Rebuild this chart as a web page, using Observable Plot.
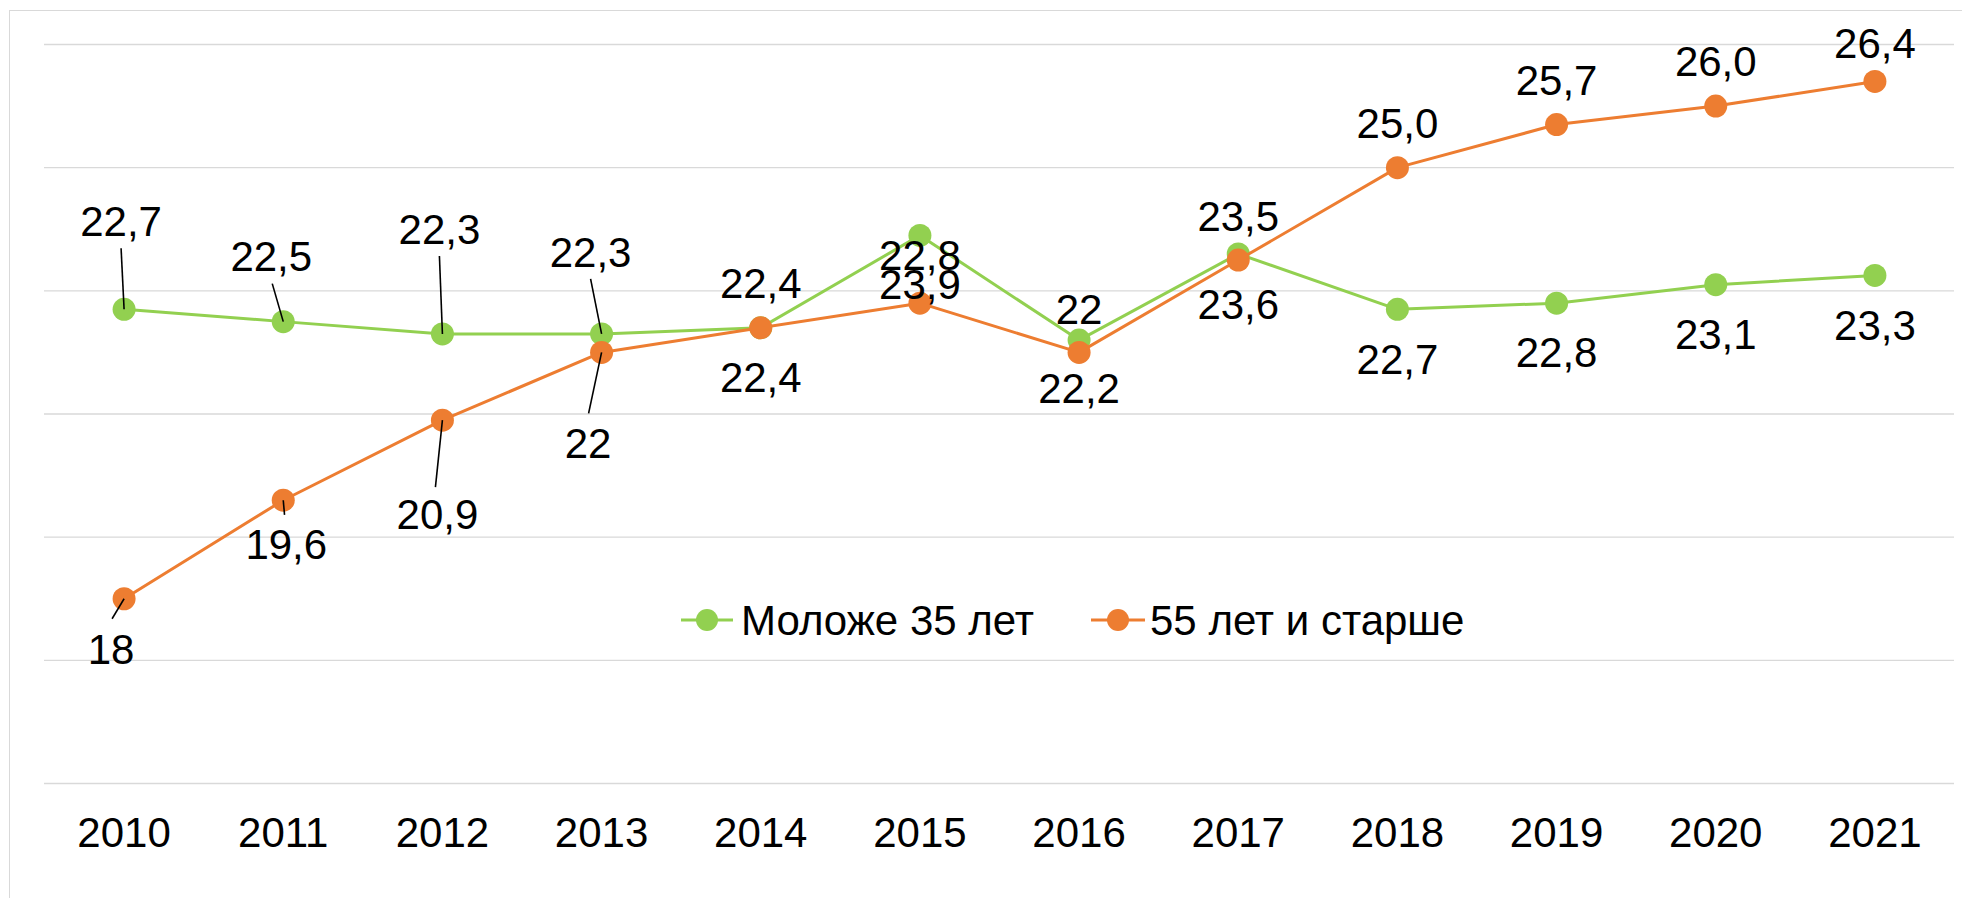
<!DOCTYPE html>
<html>
<head>
<meta charset="utf-8">
<script src="https://cdn.jsdelivr.net/npm/d3@7"></script>
<script src="https://cdn.jsdelivr.net/npm/@observablehq/plot@0.6"></script>
<style>
  html, body { margin: 0; padding: 0; background: #fff; overflow: hidden; }
  #wrap { position: relative; width: 1962px; height: 898px; overflow: hidden; font-family: "Liberation Sans", Arial, sans-serif; }
  #border { position: absolute; left: 9px; top: 10px; width: 2100px; height: 1000px; border: 1px solid #d9d9d9; box-sizing: border-box; }
  #chart { position: absolute; left: 0; top: 0; }
  #legend { position: absolute; left: 0; top: 0; pointer-events: none; }
</style>
</head>
<body>
<div id="wrap">
  <div id="border"></div>
  <div id="chart"></div>
  <svg id="legend" width="1962" height="898"></svg>
</div>
<script>
// ---- data ----
const years = [2010, 2011, 2012, 2013, 2014, 2015, 2016, 2017, 2018, 2019, 2020, 2021];
const young = [22.7, 22.5, 22.3, 22.3, 22.4, 23.9, 22.2, 23.6, 22.7, 22.8, 23.1, 23.25];
const old   = [18.0, 19.6, 20.9, 22.0, 22.4, 22.8, 22.0, 23.5, 25.0, 25.7, 26.0, 26.4];
const youngLabels = ["22,7", "22,5", "22,3", "22,3", "22,4", "22,8", "22", "23,5", "22,7", "22,8", "23,1", "23,3"];
const oldLabels   = ["18", "19,6", "20,9", "22", "22,4", "23,9", "22,2", "23,6", "25,0", "25,7", "26,0", "26,4"];
const seriesNames = ["Моложе 35 лет", "55 лет и старше"];
const gridValues = [15, 17, 19, 21, 23, 25, 27];

// ---- layout (pixel offsets of labels / leader lines relative to their point) ----
const youngLabelOffset = [[-3,-88],[-12,-65.5],[-3,-105],[-11,-81.5],[0,-44.5],[0,20],[0,-31.5],[0,-37.5],[0,50],[0,49],[0,49],[0,50]];
const oldLabelOffset   = [[-13,50],[3,44],[-5,94],[-13.5,91],[0,49.5],[0,-19.5],[0,36],[0,43.5],[0,-45],[0,-45],[0,-45],[0,-39]];
const youngLeader = [[-3,-61],[-11,-38],[-3,-78],[-11,-55]];
const oldLeader   = [[-12,20],[1.3,14.7],[-7,67],[-13,61]];

const W = 1962, H = 898;
const mL = 44, mR = 8, mT = 44, mB = 115;
const xDomain = [2009.5, 2021.5], yDomain = [15, 27];
const pxX = (W - mL - mR) / (xDomain[1] - xDomain[0]);
const pxY = (H - mT - mB) / (yDomain[1] - yDomain[0]);
const GREEN = "#92D050", ORANGE = "#ED7D31";
const FONT = "Liberation Sans, Arial, sans-serif";
const FS = 42;
const capAdj = 1.6; // middle-anchored text: cap centre sits ~1.6px above y

const youngRows = years.map((year, i) => ({year, value: young[i], label: youngLabels[i],
  lx: year + youngLabelOffset[i][0] / pxX, ly: young[i] - (youngLabelOffset[i][1] + capAdj) / pxY}));
const oldRows = years.map((year, i) => ({year, value: old[i], label: oldLabels[i],
  lx: year + oldLabelOffset[i][0] / pxX, ly: old[i] - (oldLabelOffset[i][1] + capAdj) / pxY}));
const leaders = [
  ...youngLeader.map((o, i) => ({x1: years[i], y1: young[i], x2: years[i] + o[0] / pxX, y2: young[i] - o[1] / pxY})),
  ...oldLeader.map((o, i) => ({x1: years[i], y1: old[i], x2: years[i] + o[0] / pxX, y2: old[i] - o[1] / pxY}))
];

const chart = Plot.plot({
  width: W, height: H,
  marginLeft: mL, marginRight: mR, marginTop: mT, marginBottom: mB,
  x: {domain: xDomain, axis: null},
  y: {domain: yDomain, axis: null},
  style: {fontFamily: FONT, fontSize: FS + "px", color: "#000", background: "transparent", overflow: "visible"},
  marks: [
    Plot.gridY(gridValues, {stroke: "#d9d9d9", strokeOpacity: 1, strokeWidth: 1.3}),
    Plot.axisX(years, {tickSize: 0, tickPadding: 34, fontSize: FS, fill: "#000", tickFormat: d => String(d)}),
    Plot.line(youngRows, {x: "year", y: "value", stroke: GREEN, strokeWidth: 3}),
    Plot.dot(youngRows, {x: "year", y: "value", r: 11.5, fill: GREEN, stroke: null}),
    Plot.line(oldRows, {x: "year", y: "value", stroke: ORANGE, strokeWidth: 3}),
    Plot.dot(oldRows, {x: "year", y: "value", r: 11.5, fill: ORANGE, stroke: null}),
    Plot.link(leaders, {x1: "x1", y1: "y1", x2: "x2", y2: "y2", stroke: "#000", strokeWidth: 1.6}),
    Plot.text(youngRows, {x: "lx", y: "ly", text: "label", fontSize: FS, fill: "#000"}),
    Plot.text(oldRows, {x: "lx", y: "ly", text: "label", fontSize: FS, fill: "#000"})
  ]
});
document.getElementById("chart").appendChild(chart);

// ---- legend (inside the plot area, like the original) ----
const lg = d3.select("#legend");
const legendItems = [
  {name: seriesNames[0], color: GREEN, x0: 681, x1: 733, cx: 707, tx: 741},
  {name: seriesNames[1], color: ORANGE, x0: 1091, x1: 1145, cx: 1118, tx: 1150}
];
const legY = 620;
legendItems.forEach(it => {
  lg.append("line").attr("x1", it.x0).attr("x2", it.x1).attr("y1", legY).attr("y2", legY)
    .attr("stroke", it.color).attr("stroke-width", 3);
  lg.append("circle").attr("cx", it.cx).attr("cy", legY).attr("r", 11).attr("fill", it.color);
  lg.append("text").attr("x", it.tx).attr("y", 635).attr("font-family", FONT).attr("font-size", FS)
    .attr("fill", "#000").text(it.name);
});
</script>
</body>
</html>
